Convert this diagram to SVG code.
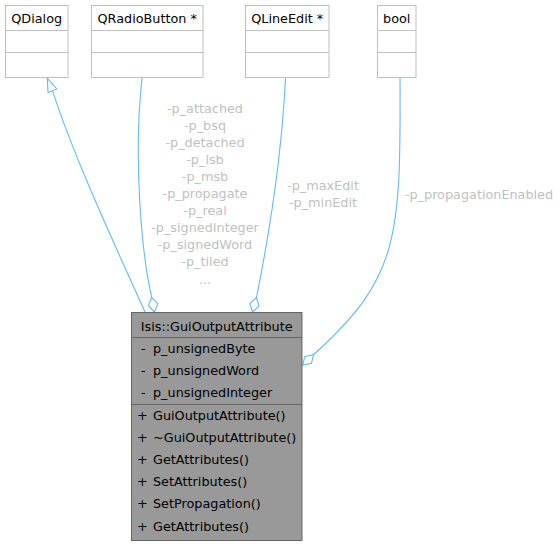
<svg xmlns="http://www.w3.org/2000/svg" width="560" height="547" viewBox="0 0 560 547">
<style>
text{font-family:"DejaVu Sans","Liberation Sans",sans-serif;font-size:12.8px;}
.box{fill:#ffffff;stroke:#bfbfbf;stroke-width:1;}
.main{fill:#999999;stroke:#666666;stroke-width:1;}
.sep{stroke:#bfbfbf;stroke-width:1;}
.msep{stroke:#666666;stroke-width:1;}
.t{fill:#000000;}
.c{text-anchor:middle;}
.lbl{fill:#bfbfbf;text-anchor:middle;}
.edge{fill:none;stroke:#63b8ff;stroke-width:1.1;}
</style>
<defs>
<marker id="tri" markerUnits="userSpaceOnUse" markerWidth="16" markerHeight="12" refX="14" refY="6" orient="auto" viewBox="0 0 16 12">
<path d="M0.5,1.2 L14,6 L0.5,10.8 Z" fill="#ffffff" stroke="#63b8ff" stroke-width="1.1"/>
</marker>
<marker id="dia" markerUnits="userSpaceOnUse" markerWidth="18" markerHeight="12" refX="1" refY="6" orient="auto" viewBox="0 0 18 12">
<path d="M1,6 L8.5,1.2 L16,6 L8.5,10.8 Z" fill="#ffffff" stroke="#63b8ff" stroke-width="1.1"/>
</marker>
</defs>

<g id="connectors">
<path class="edge" d="M145,312 C118,252 75,160 52.8,91.6 L47.3,78.3" marker-end="url(#tri)"/>
<path class="edge" d="M154.5,312 L151.5,296.5 C142,255 133,160 142,78" marker-start="url(#dia)"/>
<path class="edge" d="M252.5,312 L256.7,296.5 C270,230 282,150 285.5,78" marker-start="url(#dia)"/>
<path class="edge" d="M302.7,365 L314.3,354 C398,278 401,240 400,78" marker-start="url(#dia)"/>
<g id="edge-labels">
<text class="lbl" x="205" y="112.5">-p_attached</text>
<text class="lbl" x="205" y="129.6">-p_bsq</text>
<text class="lbl" x="205" y="146.7">-p_detached</text>
<text class="lbl" x="205" y="163.8">-p_lsb</text>
<text class="lbl" x="205" y="180.9">-p_msb</text>
<text class="lbl" x="205" y="198">-p_propagate</text>
<text class="lbl" x="205" y="215.1">-p_real</text>
<text class="lbl" x="205" y="232.2">-p_signedInteger</text>
<text class="lbl" x="205" y="249.3">-p_signedWord</text>
<text class="lbl" x="205" y="266.4">-p_tiled</text>
<text class="lbl" x="205" y="283.5">...</text>
<text class="lbl" x="323" y="190">-p_maxEdit</text>
<text class="lbl" x="323" y="207">-p_minEdit</text>
<text class="lbl" x="479" y="198.5">-p_propagationEnabled</text>
</g>
</g>

<g id="QDialog">
<rect class="box" x="5.5" y="5.5" width="62.5" height="72"/>
<line class="sep" x1="5.5" y1="30.5" x2="68" y2="30.5"/>
<line class="sep" x1="5.5" y1="52.5" x2="68" y2="52.5"/>
<text class="t c" x="36.7" y="22.5">QDialog</text>
</g>

<g id="QRadioButton">
<rect class="box" x="91.5" y="5.5" width="111.5" height="72"/>
<line class="sep" x1="91.5" y1="30.5" x2="203" y2="30.5"/>
<line class="sep" x1="91.5" y1="52.5" x2="203" y2="52.5"/>
<text class="t c" x="147.2" y="22.5">QRadioButton *</text>
</g>

<g id="QLineEdit">
<rect class="box" x="245.5" y="5.5" width="83.5" height="72"/>
<line class="sep" x1="245.5" y1="30.5" x2="329" y2="30.5"/>
<line class="sep" x1="245.5" y1="52.5" x2="329" y2="52.5"/>
<text class="t c" x="287.2" y="22.5">QLineEdit *</text>
</g>

<g id="bool">
<rect class="box" x="377.5" y="5.5" width="38.5" height="72"/>
<line class="sep" x1="377.5" y1="30.5" x2="416" y2="30.5"/>
<line class="sep" x1="377.5" y1="52.5" x2="416" y2="52.5"/>
<text class="t c" x="396.7" y="22.5">bool</text>
</g>

<g id="GuiOutputAttribute">
<rect class="main" x="131.5" y="312.5" width="170.5" height="228"/>
<line class="msep" x1="131.5" y1="337.5" x2="302" y2="337.5"/>
<line class="msep" x1="131.5" y1="404.5" x2="302" y2="404.5"/>
<text class="t c" x="216.7" y="330.5">Isis::GuiOutputAttribute</text>
<text class="t" x="141" y="353">-</text><text class="t" x="153" y="353">p_unsignedByte</text>
<text class="t" x="141" y="375">-</text><text class="t" x="153" y="375">p_unsignedWord</text>
<text class="t" x="141" y="397">-</text><text class="t" x="153" y="397">p_unsignedInteger</text>
<text class="t" x="137" y="419.5">+</text><text class="t" x="153" y="419.5">GuiOutputAttribute()</text>
<text class="t" x="137" y="441.7">+</text><text class="t" x="153" y="441.7">~GuiOutputAttribute()</text>
<text class="t" x="137" y="463.9">+</text><text class="t" x="153" y="463.9">GetAttributes()</text>
<text class="t" x="137" y="486.1">+</text><text class="t" x="153" y="486.1">SetAttributes()</text>
<text class="t" x="137" y="508.3">+</text><text class="t" x="153" y="508.3">SetPropagation()</text>
<text class="t" x="137" y="530.5">+</text><text class="t" x="153" y="530.5">GetAttributes()</text>
</g>
</svg>
